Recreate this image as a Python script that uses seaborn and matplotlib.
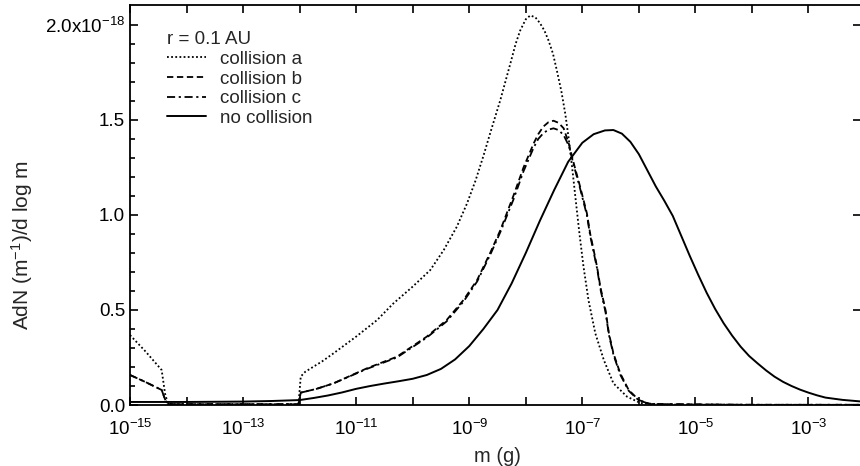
import numpy as np
import pandas as pd
import matplotlib
matplotlib.use("Agg")
import matplotlib.pyplot as plt
import seaborn as sns
from matplotlib.ticker import FixedLocator, NullFormatter, FixedFormatter
from matplotlib.lines import Line2D

# ---- data (mass exponents log10(m/g), values in units of 1e-18) ----
exp_none = [-15, -14, -13, -12.5, -12, -11.75, -11.5, -11.25, -11, -10.75, -10.5,
            -10.25, -10, -9.75, -9.5, -9.25, -9, -8.75, -8.5, -8.25, -8, -7.75,
            -7.5, -7.25, -7.0, -6.8, -6.6, -6.45, -6.3, -6.15, -6.0, -5.85, -5.7,
            -5.55, -5.4, -5.25, -5.1, -4.95, -4.8, -4.65, -4.5, -4.35, -4.2,
            -4.05, -3.9, -3.75, -3.6, -3.45, -3.3, -3.15, -3.0, -2.85, -2.7,
            -2.4, -2.05]
val_none = [0.016, 0.016, 0.018, 0.021, 0.026, 0.037, 0.05, 0.066, 0.085, 0.10,
            0.113, 0.125, 0.138, 0.158, 0.19, 0.24, 0.31, 0.40, 0.50, 0.64, 0.80,
            0.97, 1.13, 1.28, 1.38, 1.425, 1.445, 1.447, 1.428, 1.385, 1.32,
            1.235, 1.15, 1.075, 0.995, 0.89, 0.785, 0.685, 0.59, 0.505, 0.43,
            0.365, 0.307, 0.258, 0.219, 0.182, 0.149, 0.122, 0.10, 0.081, 0.065,
            0.051, 0.039, 0.027, 0.018]

exp_a = [-15, -14.72, -14.44, -14.38, -14.33, -14.2, -13.0, -12.02, -11.98, -11.9,
         -11.6, -11.4, -11.0, -10.63, -10.34, -10.0, -9.69, -9.45, -9.22, -9.04,
         -8.89, -8.75, -8.63, -8.45, -8.27, -8.18, -8.10, -8.0, -7.92, -7.83,
         -7.75, -7.67, -7.6, -7.52, -7.45, -7.37, -7.3, -7.24, -7.18, -7.11,
         -7.05, -6.98, -6.89, -6.77, -6.62, -6.45, -6.21, -5.97, -5.5, -4.0,
         -2.05]
val_a = [0.368, 0.28, 0.184, 0.06, 0.008, 0.004, 0.004, 0.004, 0.15, 0.175,
         0.23, 0.272, 0.36, 0.447, 0.535, 0.623, 0.71, 0.816, 0.938, 1.06,
         1.18, 1.31, 1.43, 1.605, 1.80, 1.90, 1.97, 2.03, 2.05, 2.04,
         2.01, 1.97, 1.92, 1.85, 1.76, 1.65, 1.53, 1.40, 1.25, 1.06,
         0.90, 0.73, 0.55, 0.377, 0.237, 0.114, 0.044, 0.01, 0.002, 0.001,
         0.001]

exp_b = [-15, -14.72, -14.44, -14.38, -14.33, -14.2, -13.0, -12.02, -11.98, -11.7,
         -11.4, -10.81, -10.28, -9.75, -9.40, -9.10, -8.86, -8.63, -8.45, -8.22,
         -8.04, -7.86, -7.78, -7.69, -7.6, -7.51, -7.42, -7.33, -7.24, -7.15,
         -7.04, -6.92, -6.86, -6.80, -6.74, -6.68, -6.59, -6.53, -6.45, -6.33,
         -6.18, -6.0, -5.8, -4.0, -2.05]
val_b = [0.158, 0.12, 0.079, 0.03, 0.005, 0.004, 0.004, 0.004, 0.065, 0.085,
         0.114, 0.193, 0.254, 0.36, 0.447, 0.553, 0.658, 0.80, 0.92, 1.10,
         1.25, 1.377, 1.425, 1.465, 1.488, 1.496, 1.485, 1.456, 1.377, 1.27,
         1.15, 1.01, 0.90, 0.816, 0.728, 0.62, 0.50, 0.377, 0.272, 0.167,
         0.079, 0.026, 0.005, 0.001, 0.001]

exp_c = exp_b
val_c = [0.158, 0.12, 0.079, 0.03, 0.005, 0.004, 0.004, 0.004, 0.065, 0.085,
         0.114, 0.190, 0.250, 0.355, 0.44, 0.545, 0.65, 0.79, 0.91, 1.08,
         1.23, 1.355, 1.40, 1.43, 1.449, 1.456, 1.447, 1.42, 1.365, 1.26,
         1.14, 1.00, 0.89, 0.805, 0.72, 0.61, 0.49, 0.37, 0.265, 0.16,
         0.075, 0.024, 0.005, 0.001, 0.001]

labels = ["collision a", "collision b", "collision c", "no collision"]
legend_title = "r = 0.1 AU"
xtick_exps = [-15, -13, -11, -9, -7, -5, -3]
xminor_exps = [-14, -12, -10, -8, -6, -4, -2]
ytick_vals = [0.0, 0.5, 1.0, 1.5, 2.0]
ytick_labels = ["0.0", "0.5", "1.0", "1.5", "2.0x10$^{-18}$"]

sns.set_theme(style="ticks")
plt.rcParams["font.family"] = ["Liberation Sans", "DejaVu Sans"]
plt.rcParams["mathtext.fontset"] = "custom"
plt.rcParams["mathtext.rm"] = "Liberation Sans"
plt.rcParams["mathtext.it"] = "Liberation Sans:italic"
plt.rcParams["mathtext.default"] = "regular"

fig = plt.figure(figsize=(8.6, 4.66), dpi=100)
ax = fig.add_axes([130/860, 61/466, 731/860, 400/466])

styles = [(0, (1, 1.3)), (0, (3.5, 2.0)), (0, (4.5, 2, 1.2, 2)), "-"]
widths = [1.3, 1.3, 1.3, 1.4]
series = [(exp_a, val_a), (exp_b, val_b), (exp_c, val_c), (exp_none, val_none)]

for (ex, v), lab, ls, lw in zip(series, labels, styles, widths):
    df = pd.DataFrame({"m": np.power(10.0, ex), "y": v})
    sns.lineplot(data=df, x="m", y="y", ax=ax, color="black", linewidth=lw,
                 linestyle=ls, estimator=None, sort=False, legend=False)

ax.set_xscale("log")
ax.set_xlim(1e-15, 10 ** (-15 + 731 / 56.54))
ax.set_ylim(0, 2.105)

ax.xaxis.set_major_locator(FixedLocator([10.0 ** e for e in xtick_exps]))
ax.xaxis.set_major_formatter(FixedFormatter(["10$^{%d}$" % e for e in xtick_exps]))
ax.xaxis.set_minor_locator(FixedLocator([10.0 ** e for e in xminor_exps]))
ax.xaxis.set_minor_formatter(NullFormatter())
ax.yaxis.set_major_locator(FixedLocator(ytick_vals))
ax.yaxis.set_major_formatter(FixedFormatter(ytick_labels))
ax.yaxis.set_minor_locator(FixedLocator([i / 10 for i in range(0, 21) if i % 5]))

ax.tick_params(axis="both", which="both", direction="in", top=True, right=True,
               colors="black", labelsize=13.5, width=1.2)
ax.tick_params(axis="x", which="both", length=6, pad=10)
ax.tick_params(axis="y", which="major", length=6, pad=3.5)
ax.tick_params(axis="y", which="minor", length=3.5, right=False)

for s in ax.spines.values():
    s.set_linewidth(1.3)
    s.set_color("black")

ax.set_xlabel("m (g)", fontsize=14.5)
ax.set_ylabel("AdN (m$^{-1}$)/d log m", fontsize=15)
ax.xaxis.label.set_va("center")
ax.yaxis.label.set_va("center")
ax.xaxis.set_label_coords(0.503, -0.1275)
ax.yaxis.set_label_coords(-0.148, 0.40)

handles = [Line2D([], [], color="black", lw=lw, linestyle=ls)
           for ls, lw in zip(styles, widths)]
leg = ax.legend(handles, labels, title=legend_title, loc="upper left",
                bbox_to_anchor=(0.05, 0.935), frameon=False, fontsize=13.5,
                title_fontsize=13.5, alignment="left", handlelength=2.1,
                handletextpad=0.75, labelspacing=0.14, borderaxespad=0,
                borderpad=0)

fig.savefig("out.png", dpi=100)
